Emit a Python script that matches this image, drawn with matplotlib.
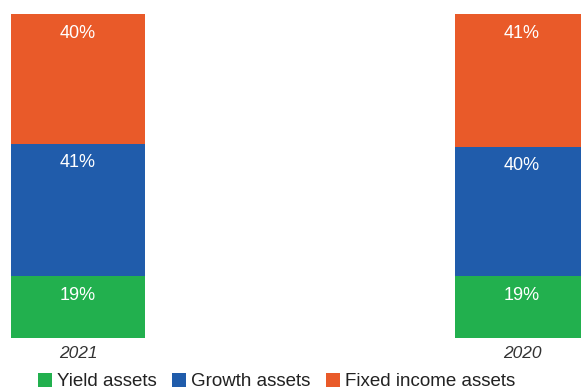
import matplotlib.pyplot as plt
from matplotlib.patches import Patch

plt.rcParams['font.family'] = ['Liberation Sans', 'DejaVu Sans']

years = ['2021', '2020']
series = ['Yield assets', 'Growth assets', 'Fixed income assets']
yield_pct = [19, 19]
growth_pct = [41, 40]
fixed_pct = [40, 41]
colors = ['#22B04E', '#205CAB', '#E95A29']

fig = plt.figure(figsize=(5.81, 3.91), dpi=100)
# axes span the full width; right-hand bar runs off the edge
ax = fig.add_axes([0, 53 / 391, 1, 324 / 391])

x = [0, 1]
w = 134 / 444
bottom = [0, 0]
for vals, col in zip([yield_pct, growth_pct, fixed_pct], colors):
    ax.bar(x, vals, width=w, bottom=bottom, color=col, linewidth=0)
    for xi, b, v in zip(x, bottom, vals):
        top = b + v
        ax.text(xi, top - 19 / 324 * 100, f'{v}%', ha='center', va='center',
                color='white', fontsize=13)
    bottom = [b + v for b, v in zip(bottom, vals)]

left = -w / 2 - 11 / 444
ax.set_xlim(left, left + 581 / 444)
ax.set_ylim(0, 100)
ax.axis('off')

for xi, yr in zip(x, years):
    ax.text(xi, -16 / 324 * 100, yr, ha='center', va='center',
            fontsize=12.5, style='italic', color='#333333')

handles = [Patch(facecolor=c, edgecolor='none') for c in colors]
fig.legend(handles, series, loc='center', bbox_to_anchor=(0.476, 0.024),
           ncol=3, frameon=False, fontsize=13.5, handlelength=0.75,
           handleheight=0.75, handletextpad=0.25, columnspacing=0.85,
           borderpad=0, labelcolor='#222222')

fig.savefig('out.png', dpi=100)
